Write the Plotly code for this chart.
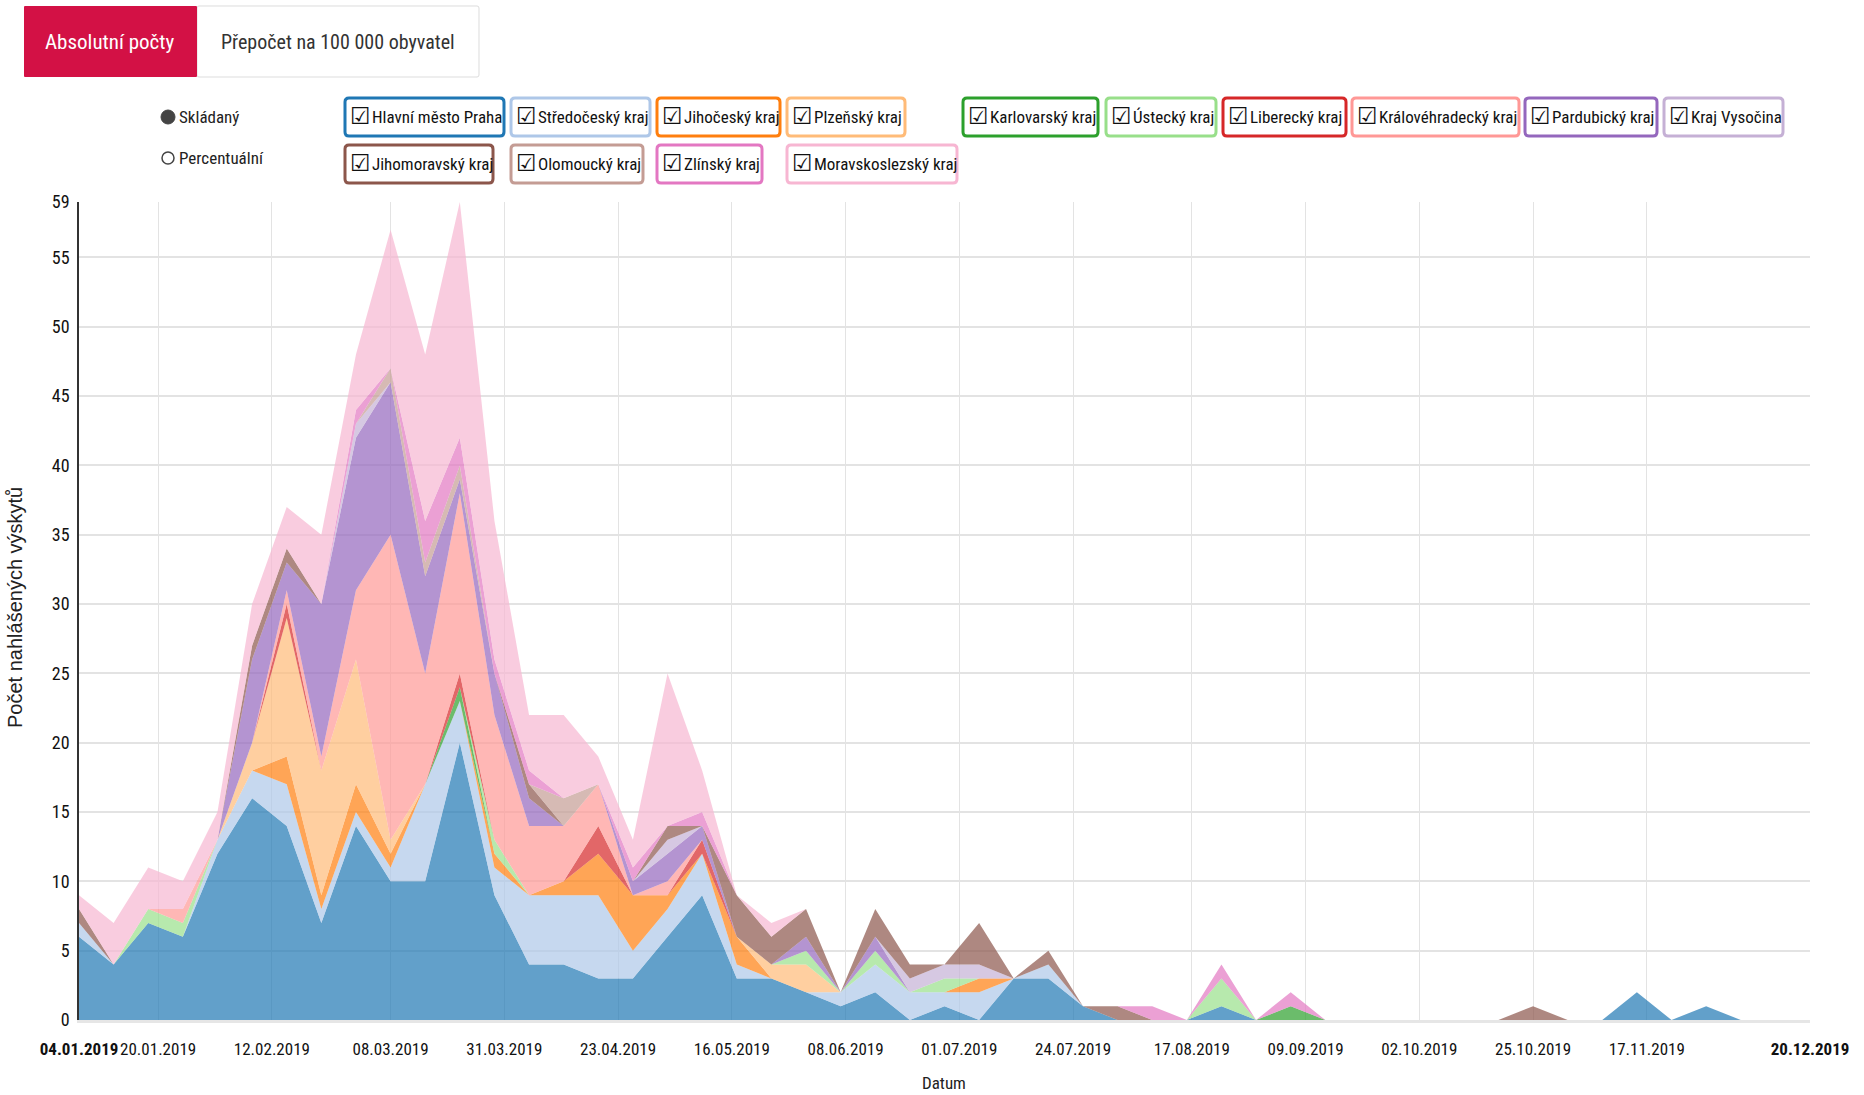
import plotly.graph_objects as go
import pandas as pd

# ---------------- data ----------------
weeks = pd.date_range("2019-01-04", periods=51, freq="7D")

regions = ["Hlavní město Praha", "Středočeský kraj", "Jihočeský kraj", "Plzeňský kraj",
           "Karlovarský kraj", "Ústecký kraj", "Liberecký kraj", "Královéhradecký kraj",
           "Pardubický kraj", "Kraj Vysočina", "Jihomoravský kraj", "Olomoucký kraj",
           "Zlínský kraj", "Moravskoslezský kraj"]

colors = ["#1f77b4", "#aec7e8", "#ff7f0e", "#ffbb78", "#2ca02c", "#98df8a", "#d62728",
          "#ff9896", "#9467bd", "#c5b0d5", "#8c564b", "#c49c94", "#e377c2", "#f7b6d2"]

praha = [6, 4, 7, 6, 12, 16, 14, 7, 14, 10,
         10, 20, 9, 4, 4, 3, 3, 6, 9, 3,
         3, 2, 1, 2, 0, 1, 0, 3, 3, 1,
         0, 0, 0, 1, 0, 0, 0, 0, 0, 0,
         0, 0, 0, 0, 0, 2, 0, 1, 0, 0,
         0]
stredocesky = [1, 0, 0, 0, 1, 2, 3, 1, 1, 1,
               7, 3, 2, 5, 5, 6, 2, 2, 3, 1,
               0, 0, 1, 2, 2, 1, 2, 0, 1, 0,
               0, 0, 0, 0, 0, 0, 0, 0, 0, 0,
               0, 0, 0, 0, 0, 0, 0, 0, 0, 0,
               0]
jihocesky = [0, 0, 0, 0, 0, 0, 2, 1, 2, 1,
             0, 0, 1, 0, 1, 3, 4, 1, 0, 2,
             0, 0, 0, 0, 0, 0, 1, 0, 0, 0,
             0, 0, 0, 0, 0, 0, 0, 0, 0, 0,
             0, 0, 0, 0, 0, 0, 0, 0, 0, 0,
             0]
plzensky = [0, 0, 0, 0, 0, 2, 10, 9, 9, 1,
            0, 0, 0, 0, 0, 0, 0, 0, 0, 0,
            1, 2, 0, 0, 0, 0, 0, 0, 0, 0,
            0, 0, 0, 0, 0, 0, 0, 0, 0, 0,
            0, 0, 0, 0, 0, 0, 0, 0, 0, 0,
            0]
karlovarsky = [0, 0, 0, 0, 0, 0, 0, 0, 0, 0,
               0, 1, 0, 0, 0, 0, 0, 0, 0, 0,
               0, 0, 0, 0, 0, 0, 0, 0, 0, 0,
               0, 0, 0, 0, 0, 1, 0, 0, 0, 0,
               0, 0, 0, 0, 0, 0, 0, 0, 0, 0,
               0]
ustecky = [0, 0, 1, 1, 0, 0, 0, 0, 0, 0,
           0, 0, 1, 0, 0, 0, 0, 0, 0, 0,
           0, 1, 0, 1, 0, 1, 0, 0, 0, 0,
           0, 0, 0, 2, 0, 0, 0, 0, 0, 0,
           0, 0, 0, 0, 0, 0, 0, 0, 0, 0,
           0]
liberecky = [0, 0, 0, 0, 0, 0, 1, 0, 0, 0,
             0, 1, 0, 0, 0, 2, 0, 0, 1, 0,
             0, 0, 0, 0, 0, 0, 0, 0, 0, 0,
             0, 0, 0, 0, 0, 0, 0, 0, 0, 0,
             0, 0, 0, 0, 0, 0, 0, 0, 0, 0,
             0]
kralovehradecky = [0, 0, 0, 1, 0, 0, 1, 1, 5, 22,
                   8, 13, 9, 5, 4, 3, 0, 1, 0, 0,
                   0, 0, 0, 0, 0, 0, 0, 0, 0, 0,
                   0, 0, 0, 0, 0, 0, 0, 0, 0, 0,
                   0, 0, 0, 0, 0, 0, 0, 0, 0, 0,
                   0]
pardubicky = [0, 0, 0, 0, 0, 6, 2, 11, 11, 11,
              7, 1, 3, 2, 0, 0, 1, 2, 1, 0,
              0, 1, 0, 1, 0, 0, 0, 0, 0, 0,
              0, 0, 0, 0, 0, 0, 0, 0, 0, 0,
              0, 0, 0, 0, 0, 0, 0, 0, 0, 0,
              0]
vysocina = [0, 0, 0, 0, 0, 0, 0, 0, 1, 0,
            0, 0, 0, 0, 0, 0, 0, 1, 0, 0,
            0, 0, 0, 0, 1, 1, 1, 0, 0, 0,
            0, 0, 0, 0, 0, 0, 0, 0, 0, 0,
            0, 0, 0, 0, 0, 0, 0, 0, 0, 0,
            0]
jihomoravsky = [1, 0, 0, 0, 0, 1, 1, 0, 0, 0,
                0, 0, 0, 1, 0, 0, 0, 1, 0, 3,
                2, 2, 0, 2, 1, 0, 3, 0, 1, 0,
                1, 0, 0, 0, 0, 0, 0, 0, 0, 0,
                0, 0, 1, 0, 0, 0, 0, 0, 0, 0,
                0]
olomoucky = [0, 0, 0, 0, 0, 0, 0, 0, 0, 1,
             1, 1, 0, 0, 2, 0, 0, 0, 0, 0,
             0, 0, 0, 0, 0, 0, 0, 0, 0, 0,
             0, 0, 0, 0, 0, 0, 0, 0, 0, 0,
             0, 0, 0, 0, 0, 0, 0, 0, 0, 0,
             0]
zlinsky = [0, 0, 0, 0, 0, 0, 0, 0, 1, 0,
           3, 2, 1, 1, 0, 0, 1, 0, 1, 0,
           0, 0, 0, 0, 0, 0, 0, 0, 0, 0,
           0, 1, 0, 1, 0, 1, 0, 0, 0, 0,
           0, 0, 0, 0, 0, 0, 0, 0, 0, 0,
           0]
moravskoslezsky = [1, 3, 3, 2, 2, 3, 3, 5, 4, 10,
                   12, 17, 10, 4, 6, 2, 2, 11, 3, 0,
                   1, 0, 0, 0, 0, 0, 0, 0, 0, 0,
                   0, 0, 0, 0, 0, 0, 0, 0, 0, 0,
                   0, 0, 0, 0, 0, 0, 0, 0, 0, 0,
                   0]

series = [praha, stredocesky, jihocesky, plzensky, karlovarsky, ustecky, liberecky,
          kralovehradecky, pardubicky, vysocina, jihomoravsky, olomoucky, zlinsky,
          moravskoslezsky]

x_tick_dates = ["2019-01-04", "2019-01-20", "2019-02-12", "2019-03-08", "2019-03-31",
                "2019-04-23", "2019-05-16", "2019-06-08", "2019-07-01", "2019-07-24",
                "2019-08-17", "2019-09-09", "2019-10-02", "2019-10-25", "2019-11-17",
                "2019-12-20"]
x_tick_labels = ["04.01.2019", "20.01.2019", "12.02.2019", "08.03.2019", "31.03.2019",
                 "23.04.2019", "16.05.2019", "08.06.2019", "01.07.2019", "24.07.2019",
                 "17.08.2019", "09.09.2019", "02.10.2019", "25.10.2019", "17.11.2019",
                 "20.12.2019"]
y_tick_vals = [0, 5, 10, 15, 20, 25, 30, 35, 40, 45, 50, 55, 59]

# ---------------- geometry helpers ----------------
FW, FH = 1864, 1095
L, R, T, B = 79, 54, 202, 75
PW = FW - L - R
PH = FH - T - B


def px(x):
    return (x - L) / PW


def py(y):
    return (FH - B - y) / PH


def rrect(x0, y0, x1, y1, r):
    pts = [("M", [(x0 + r, y0)]), ("L", [(x1 - r, y0)]), ("Q", [(x1, y0), (x1, y0 + r)]),
           ("L", [(x1, y1 - r)]), ("Q", [(x1, y1), (x1 - r, y1)]), ("L", [(x0 + r, y1)]),
           ("Q", [(x0, y1), (x0, y1 - r)]), ("L", [(x0, y0 + r)]), ("Q", [(x0, y0), (x0 + r, y0)])]
    s = ""
    for cmd, ps in pts:
        s += cmd + " " + " ".join(f"{px(a):.5f},{py(b):.5f}" for a, b in ps) + " "
    return s + "Z"


def rgba(h, a):
    h = h.lstrip("#")
    return f"rgba({int(h[0:2],16)},{int(h[2:4],16)},{int(h[4:6],16)},{a})"


NARROW = "Liberation Sans Narrow, Roboto Condensed, DejaVu Sans Condensed, Arial Narrow, sans-serif"

fig = go.Figure()
for name, vals, col in zip(regions, series, colors):
    fig.add_trace(go.Scatter(
        x=weeks, y=vals, name=name, stackgroup="one", mode="none",
        fillcolor=rgba(col, 0.7), line=dict(width=0), hoverinfo="skip", showlegend=False))

shapes = []
annotations = []

# tabs
shapes.append(dict(type="path", xref="paper", yref="paper", path=rrect(197, 6, 479, 77, 2),
                   line=dict(color="#dddddd", width=1), fillcolor="white", layer="above"))
shapes.append(dict(type="path", xref="paper", yref="paper", path=rrect(24, 6, 197, 77, 1),
                   line=dict(color="#d31145", width=0), fillcolor="#d31145", layer="above"))
annotations.append(dict(text="Absolutní počty", x=px(110), y=py(42), xref="paper", yref="paper",
                        showarrow=False, xanchor="center", yanchor="middle",
                        font=dict(family=NARROW, size=21, color="white")))
annotations.append(dict(text="Přepočet na 100 000 obyvatel", x=px(338), y=py(42), xref="paper",
                        yref="paper", showarrow=False, xanchor="center", yanchor="middle",
                        font=dict(family=NARROW, size=20, color="#333333")))

# radio buttons
shapes.append(dict(type="circle", xref="paper", yref="paper", x0=px(161), x1=px(175),
                   y0=py(110), y1=py(124), fillcolor="#444444", line=dict(color="#444444", width=1)))
shapes.append(dict(type="circle", xref="paper", yref="paper", x0=px(162), x1=px(174),
                   y0=py(152), y1=py(164), fillcolor="white", line=dict(color="#444444", width=1.5)))
annotations.append(dict(text="Skládaný", x=px(177), y=py(117), xref="paper", yref="paper",
                        showarrow=False, xanchor="left", yanchor="middle",
                        font=dict(family=NARROW, size=17, color="#222222")))
annotations.append(dict(text="Percentuální", x=px(177), y=py(158), xref="paper", yref="paper",
                        showarrow=False, xanchor="left", yanchor="middle",
                        font=dict(family=NARROW, size=17, color="#222222")))

# custom legend boxes (page pixel positions)
legend_boxes = [
    (345, 504, 1), (511, 650, 1), (657, 780, 1), (787, 905, 1), (963, 1098, 1),
    (1106, 1216, 1), (1223, 1346, 1), (1352, 1519, 1), (1525, 1657, 1), (1664, 1783, 1),
    (345, 493, 2), (511, 643, 2), (657, 762, 2), (787, 957, 2)]
row_y = {1: (98, 136), 2: (145, 183)}
for (x0, x1, row), name, col in zip(legend_boxes, regions, colors):
    y0, y1 = row_y[row]
    shapes.append(dict(type="path", xref="paper", yref="paper", path=rrect(x0, y0, x1, y1, 4),
                       line=dict(color=col, width=3), fillcolor="white", layer="above"))
    ym = (y0 + y1) / 2
    annotations.append(dict(text="☑", x=px(x0 + 3), y=py(ym - 1), xref="paper", yref="paper",
                            showarrow=False, xanchor="left", yanchor="middle",
                            font=dict(family="DejaVu Sans", size=23, color="#111111")))
    annotations.append(dict(text=name, x=px(x0 + 25), y=py(ym), xref="paper", yref="paper",
                            showarrow=False, xanchor="left", yanchor="middle",
                            font=dict(family=NARROW, size=17, color="#111111")))

# axis titles
annotations.append(dict(text="Počet nahlášených výskytů", x=px(15), y=py(608), xref="paper",
                        yref="paper", showarrow=False, textangle=-90, xanchor="center",
                        yanchor="middle",
                        font=dict(family="Liberation Sans, Arial, sans-serif", size=20,
                                  color="#222222")))
annotations.append(dict(text="Datum", x=px(944), y=py(1083), xref="paper", yref="paper",
                        showarrow=False, xanchor="center", yanchor="middle",
                        font=dict(family=NARROW, size=17, color="#222222")))

ticktext = [f"<b>{t}</b>" if i in (0, len(x_tick_labels) - 1) else t
            for i, t in enumerate(x_tick_labels)]

fig.update_layout(
    width=FW, height=FH,
    margin=dict(l=L, r=R, t=T, b=B, pad=0),
    paper_bgcolor="white", plot_bgcolor="white",
    showlegend=False, hovermode=False,
    shapes=shapes, annotations=annotations,
    xaxis=dict(
        type="date", range=[x_tick_dates[0], x_tick_dates[-1]],
        tickmode="array", tickvals=x_tick_dates, ticktext=ticktext,
        showgrid=False, zeroline=False,
        minor=dict(tickmode="array", tickvals=x_tick_dates[1:-1], showgrid=True,
                   gridcolor="#e3e3e3", gridwidth=1, ticks=""),
        showline=True, linecolor="#e6e6e6", linewidth=3,
        ticks="outside", ticklen=12, tickcolor="rgba(0,0,0,0)",
        tickfont=dict(family=NARROW, size=17, color="#111111"), tickangle=0,
        fixedrange=True),
    yaxis=dict(
        range=[0, 59], tickmode="array", tickvals=y_tick_vals,
        ticktext=[str(v) for v in y_tick_vals],
        showgrid=False, zeroline=False,
        minor=dict(tickmode="array", tickvals=y_tick_vals[1:-1], showgrid=True,
                   gridcolor="#e3e3e3", gridwidth=2, ticks=""),
        showline=True, linecolor="#333333", linewidth=1.5,
        ticks="outside", ticklen=4, tickcolor="rgba(0,0,0,0)",
        tickfont=dict(family=NARROW, size=18, color="#111111"),
        fixedrange=True),
)

fig.write_html("out.html", config={"displayModeBar": False},
               post_script="document.body.style.margin='0px';"
                           "document.body.style.overflow='hidden';")
